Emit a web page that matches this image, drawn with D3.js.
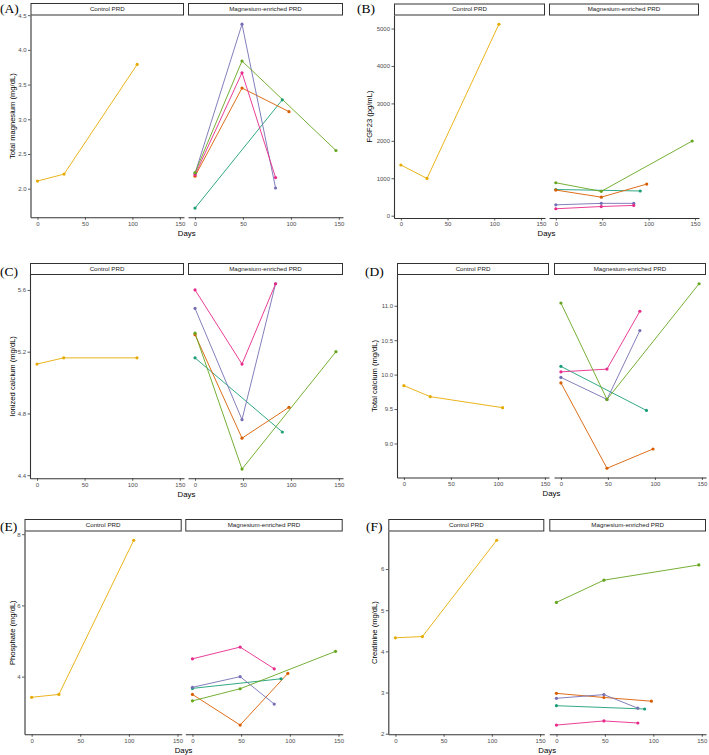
<!DOCTYPE html>
<html><head><meta charset="utf-8">
<script src="https://cdn.jsdelivr.net/npm/d3@7"></script>
<style>
html,body{margin:0;padding:0;background:#fff;}
svg{display:block;}
</style></head>
<body>
<svg id="chart" width="709" height="755"></svg>
<script>
// ---------------- DATA ----------------
const facets = ["Control PRD", "Magnesium-enriched PRD"];
const patients = ["Patient 1", "Patient 2", "Patient 3", "Patient 4", "Patient 5", "Patient 6"];
const patientGroup = ["Magnesium-enriched PRD", "Magnesium-enriched PRD", "Magnesium-enriched PRD", "Magnesium-enriched PRD", "Magnesium-enriched PRD", "Control PRD"];
const patientColors = ["#1B9E77", "#D95F02", "#7570B3", "#E7298A", "#66A61E", "#E6AB02"];
const patientDays = [
  [0, 91],
  [0, 49, 98],
  [0, 49, 84],
  [0, 49, 84],
  [0, 49, 147],
  [0, 28, 105]
];
const xTicks = [0, 50, 100, 150];

const totalMagnesium = [[1.72, 3.28], [2.18, 3.45, 3.11], [2.22, 4.37, 2.01], [2.20, 3.67, 2.16], [2.23, 3.84, 2.55], [2.11, 2.21, 3.79]];
const fgf23 = [[700, 660], [685, 495, 845], [290, 330, 330], [185, 245, 275], [880, 650, 1995], [1355, 995, 5115]];
const ionizedCalcium = [[5.16, 4.68], [5.31, 4.64, 4.84], [5.48, 4.76, 5.64], [5.60, 5.12, 5.64], [5.32, 4.44, 5.20], [5.12, 5.16, 5.16]];
const totalCalcium = [[10.12, 9.48], [9.88, 8.64, 8.92], [9.96, 9.64, 10.64], [10.04, 10.08, 10.92], [11.04, 9.64, 11.32], [9.84, 9.68, 9.52]];
const phosphate = [[3.67, 3.94], [3.50, 2.64, 4.09], [3.70, 4.00, 3.23], [4.50, 4.83, 4.22], [3.32, 3.66, 4.71], [3.42, 3.50, 7.83]];
const creatinine = [[2.68, 2.60], [2.98, 2.88, 2.79], [2.86, 2.95, 2.62], [2.21, 2.31, 2.26], [5.19, 5.73, 6.10], [4.33, 4.36, 6.70]];

const panelLabels = ["(A)", "(B)", "(C)", "(D)", "(E)", "(F)"];
const yTitles = ["Total magnesium (mg/dL)", "FGF23 (pg/mL)", "Ionized calcium (mg/dL)", "Total calcium (mg/dL)", "Phosphate (mg/dL)", "Creatinine (mg/dL)"];
const yTicksA = [2.0, 2.5, 3.0, 3.5, 4.0, 4.5];
const yTicksB = [0, 1000, 2000, 3000, 4000, 5000];
const yTicksC = [4.4, 4.8, 5.2, 5.6];
const yTicksD = [9.0, 9.5, 10.0, 10.5, 11.0];
const yTicksE = [4, 6, 8];
const yTicksF = [2, 3, 4, 5, 6];

// ---------------- LAYOUT ----------------
const layouts = [
  {lx: 0,   ly: 12.5, ytx: 12.5, stripTop: 3.5,   stripBot: 15,    bottom: 217.3, f1: [30.5, 184],   f2: [188, 343]},
  {lx: 357, ly: 12.5, ytx: 370,  stripTop: 4,     stripBot: 15,    bottom: 218,   f1: [394, 545],    f2: [549, 699]},
  {lx: 0,   ly: 275.5, ytx: 12.5, stripTop: 263.5, stripBot: 274.5, bottom: 478.3, f1: [30, 184],     f2: [188, 343]},
  {lx: 365, ly: 276, ytx: 375,  stripTop: 263.5, stripBot: 274.5, bottom: 477.5, f1: [397, 549],    f2: [554, 706]},
  {lx: 0,   ly: 531, ytx: 12.5, stripTop: 519.5, stripBot: 531,   bottom: 734.3, f1: [24.5, 181.7], f2: [185.3, 342.7]},
  {lx: 366, ly: 531, ytx: 375,  stripTop: 519.5, stripBot: 531,   bottom: 734.3, f1: [388.3, 544.3], f2: [549.3, 706]}
];
const measures = [totalMagnesium, fgf23, ionizedCalcium, totalCalcium, phosphate, creatinine];
const yTickSets = [yTicksA, yTicksB, yTicksC, yTicksD, yTicksE, yTicksF];
const yFormats = [d3.format(".1f"), d3.format("d"), d3.format(".1f"), d3.format(".1f"), d3.format("d"), d3.format("d")];

const svg = d3.select("#chart");
const FONT = "'Liberation Sans', Arial, Helvetica, sans-serif";

// x domain shared by all (ggplot 5% expansion of data range)
const allDays = patientDays.flat();
const dMin = d3.min(allDays), dMax = d3.max(allDays);
const dPad = (dMax - dMin) * 0.05;
const xDomain = [dMin - dPad, dMax + dPad];

measures.forEach((vals, pi) => {
  const L = layouts[pi];
  const g = svg.append("g");
  const all = vals.flat();
  const vMin = d3.min(all), vMax = d3.max(all);
  const vPad = (vMax - vMin) * 0.05;
  const y = d3.scaleLinear().domain([vMin - vPad, vMax + vPad]).range([L.bottom, L.stripBot]);

  // panel label
  g.append("text").attr("x", L.lx).attr("y", L.ly)
    .attr("font-family", "'Liberation Serif', 'Times New Roman', serif")
    .attr("font-size", 13.5).attr("fill", "#000").text(panelLabels[pi]);

  // y title
  g.append("text")
    .attr("transform", `translate(${L.ytx},${(L.stripBot + L.bottom) / 2}) rotate(-90)`)
    .attr("text-anchor", "middle").attr("dominant-baseline", "middle")
    .attr("font-family", FONT).attr("font-size", 7.6).attr("fill", "#000")
    .text(yTitles[pi]);

  // x title
  g.append("text")
    .attr("x", (L.f1[0] + L.f2[1]) / 2).attr("y", L.bottom + 18.2)
    .attr("text-anchor", "middle")
    .attr("font-family", FONT).attr("font-size", 7.8).attr("fill", "#000")
    .text("Days");

  facets.forEach((fname, fi) => {
    const fr = fi === 0 ? L.f1 : L.f2;
    const x = d3.scaleLinear().domain(xDomain).range(fr);
    const fg = g.append("g");

    // strip
    fg.append("rect").attr("x", fr[0] + 0.5).attr("y", L.stripTop)
      .attr("width", fr[1] - fr[0] - 1).attr("height", L.stripBot - L.stripTop)
      .attr("fill", "#fff").attr("stroke", "#333").attr("stroke-width", 1);
    fg.append("text").attr("x", (fr[0] + fr[1]) / 2).attr("y", (L.stripTop + L.stripBot) / 2 + 0.3)
      .attr("text-anchor", "middle").attr("dominant-baseline", "middle")
      .attr("font-family", FONT).attr("font-size", 6.2).attr("fill", "#1a1a1a").text(fname);

    // x axis
    const xa = fg.append("g").attr("transform", `translate(0,${L.bottom})`)
      .call(d3.axisBottom(x).tickValues(xTicks).tickSize(2.5).tickSizeOuter(0).tickPadding(1.5));
    xa.select(".domain").attr("stroke", "#333").attr("stroke-width", 1.1);
    xa.selectAll(".tick line").attr("stroke", "#333").attr("stroke-width", 0.8);
    xa.selectAll(".tick text").attr("fill", "#4d4d4d").attr("font-size", 6).attr("font-family", FONT);

    if (fi === 0) {
      const ya = fg.append("g").attr("transform", `translate(${fr[0]},0)`)
        .call(d3.axisLeft(y).tickValues(yTickSets[pi]).tickFormat(yFormats[pi]).tickSize(2.5).tickSizeOuter(0).tickPadding(1.5));
      ya.select(".domain").attr("stroke", "#333").attr("stroke-width", 1.1);
      ya.selectAll(".tick line").attr("stroke", "#333").attr("stroke-width", 0.8);
      ya.selectAll(".tick text").attr("fill", "#4d4d4d").attr("font-size", 6).attr("font-family", FONT);
    }

    // series in this facet
    const idx = patients.map((p, i) => i).filter(i => patientGroup[i] === fname);
    const line = d3.line().x(d => x(d[0])).y(d => y(d[1]));
    idx.forEach(i => {
      const pts = patientDays[i].map((d, k) => [d, vals[i][k]]);
      fg.append("path").datum(pts).attr("d", line)
        .attr("fill", "none").attr("stroke", patientColors[i]).attr("stroke-width", 0.9);
    });
    idx.forEach(i => {
      const pts = patientDays[i].map((d, k) => [d, vals[i][k]]);
      fg.selectAll(null).data(pts).enter().append("circle")
        .attr("cx", d => x(d[0])).attr("cy", d => y(d[1])).attr("r", 1.6)
        .attr("fill", patientColors[i]);
    });
  });
});
</script>
</body></html>
